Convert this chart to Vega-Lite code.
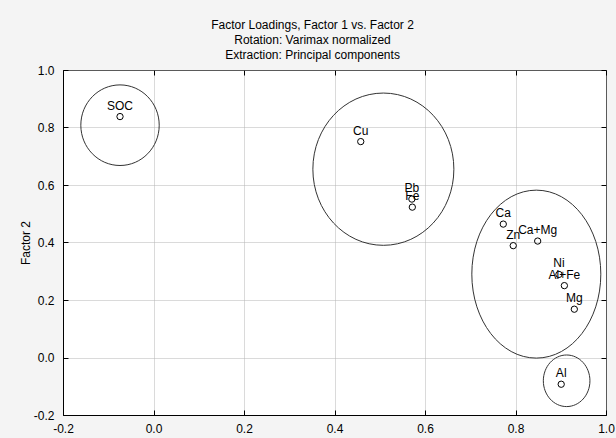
{
  "$schema": "https://vega.github.io/schema/vega-lite/v6.json",
  "width": 543,
  "height": 345,
  "autosize": "none",
  "padding": {"left": 63, "top": 70, "right": 10, "bottom": 23},
  "background": "#f4f4f4",
  "config": {
    "view": {"fill": "white", "stroke": "#000", "strokeWidth": 1},
    "font": "Liberation Sans",
    "axis": {
      "labelFont": "Liberation Sans",
      "labelFontSize": 12,
      "labelColor": "#000",
      "titleFont": "Liberation Sans",
      "titleFontSize": 12,
      "titleFontWeight": "normal",
      "titleColor": "#000",
      "domainColor": "#000",
      "tickColor": "#000",
      "tickWidth": 1,
      "tickSize": -5,
      "gridColor": "#b4b4b4",
      "gridDash": [1, 1],
      "gridWidth": 1
    }
  },
  "title": {
    "text": ["Factor Loadings, Factor 1 vs. Factor 2", "Rotation: Varimax normalized", "Extraction: Principal components"],
    "font": "Liberation Sans",
    "fontSize": 12,
    "fontWeight": "normal",
    "color": "#000",
    "lineHeight": 15,
    "anchor": "middle",
    "frame": "group",
    "dx": -22,
    "offset": 2
  },
  "datasets": {
    "points": [
      {"name": "SOC", "f1": -0.074, "f2": 0.838},
      {"name": "Cu", "f1": 0.458, "f2": 0.751},
      {"name": "Pb", "f1": 0.571, "f2": 0.551},
      {"name": "Fe", "f1": 0.572, "f2": 0.523},
      {"name": "Ca", "f1": 0.773, "f2": 0.464},
      {"name": "Zn", "f1": 0.795, "f2": 0.389},
      {"name": "Ca+Mg", "f1": 0.849, "f2": 0.405},
      {"name": "Ni", "f1": 0.896, "f2": 0.289},
      {"name": "Al+Fe", "f1": 0.908, "f2": 0.250},
      {"name": "Mg", "f1": 0.930, "f2": 0.168},
      {"name": "Al", "f1": 0.901, "f2": -0.093}
    ],
    "groups": [
      {"group": "SOC", "cx": -0.074, "cy": 0.808},
      {"group": "Cu", "cx": 0.508, "cy": 0.655},
      {"group": "Ca", "cx": 0.846, "cy": 0.290},
      {"group": "Al", "cx": 0.913, "cy": -0.081}
    ]
  },
  "layer": [
    {
      "data": {"name": "points"},
      "mark": {"type": "point", "shape": "circle", "filled": false, "stroke": "#000", "strokeWidth": 1, "size": 40, "opacity": 1},
      "encoding": {
        "x": {
          "field": "f1", "type": "quantitative",
          "scale": {"domain": [-0.2, 1.0], "nice": false, "zero": false},
          "axis": {
            "orient": "bottom", "title": null,
            "values": [-0.2, 0, 0.2, 0.4, 0.6, 0.8, 1.0],
            "labelExpr": "datum.value < -0.0001 ? '-' + format(-datum.value, '.1f') : format(datum.value, '.1f')",
            "labelPadding": 13,
            "labelFlush": false
          }
        },
        "y": {
          "field": "f2", "type": "quantitative",
          "scale": {"domain": [-0.2, 1.0], "nice": false, "zero": false},
          "axis": {
            "orient": "left", "title": "Factor 2",
            "values": [-0.2, 0, 0.2, 0.4, 0.6, 0.8, 1.0],
            "labelExpr": "datum.value < -0.0001 ? '-' + format(-datum.value, '.1f') : format(datum.value, '.1f')",
            "labelPadding": 14,
            "labelFlush": false,
            "titleX": -38,
            "titleBaseline": "middle"
          }
        }
      }
    },
    {
      "data": {"name": "points"},
      "mark": {"type": "text", "font": "Liberation Sans", "fontSize": 12, "dy": -11, "align": "center", "baseline": "middle", "color": "#000"},
      "encoding": {
        "x": {"field": "f1", "type": "quantitative", "axis": {"orient": "top", "labels": false, "grid": false, "title": null, "domain": false, "ticks": true, "values": [-0.2, 0, 0.2, 0.4, 0.6, 0.8, 1.0]}},
        "y": {"field": "f2", "type": "quantitative", "axis": {"orient": "right", "labels": false, "grid": false, "title": null, "domain": false, "ticks": true, "values": [-0.2, 0, 0.2, 0.4, 0.6, 0.8, 1.0]}},
        "text": {"field": "name"}
      }
    },
    {
      "data": {"name": "groups"},
      "transform": [{"filter": "datum.group === 'SOC'"}],
      "mark": {"type": "point", "shape": "M-1,0A1,1.028,0,1,1,1,0A1,1.028,0,1,1,-1,0Z", "size": 6147, "filled": false, "stroke": "#333", "strokeWidth": 1, "opacity": 1},
      "encoding": {
        "x": {"field": "cx", "type": "quantitative", "axis": null},
        "y": {"field": "cy", "type": "quantitative", "axis": null}
      }
    },
    {
      "data": {"name": "groups"},
      "transform": [{"filter": "datum.group === 'Cu'"}],
      "mark": {"type": "point", "shape": "M-1,0A1,1.08,0,1,1,1,0A1,1.08,0,1,1,-1,0Z", "size": 19881, "filled": false, "stroke": "#333", "strokeWidth": 1, "opacity": 1},
      "encoding": {
        "x": {"field": "cx", "type": "quantitative", "axis": null},
        "y": {"field": "cy", "type": "quantitative", "axis": null}
      }
    },
    {
      "data": {"name": "groups"},
      "transform": [{"filter": "datum.group === 'Ca'"}],
      "mark": {"type": "point", "shape": "M-1,0A1,1.302,0,1,1,1,0A1,1.302,0,1,1,-1,0Z", "size": 16641, "filled": false, "stroke": "#333", "strokeWidth": 1, "opacity": 1},
      "encoding": {
        "x": {"field": "cx", "type": "quantitative", "axis": null},
        "y": {"field": "cy", "type": "quantitative", "axis": null}
      }
    },
    {
      "data": {"name": "groups"},
      "transform": [{"filter": "datum.group === 'Al'"}],
      "mark": {"type": "point", "shape": "M-1,0A1,1.107,0,1,1,1,0A1,1.107,0,1,1,-1,0Z", "size": 2172, "filled": false, "stroke": "#333", "strokeWidth": 1, "opacity": 1},
      "encoding": {
        "x": {"field": "cx", "type": "quantitative", "axis": null},
        "y": {"field": "cy", "type": "quantitative", "axis": null}
      }
    }
  ],
  "resolve": {"axis": {"x": "independent", "y": "independent"}}
}
